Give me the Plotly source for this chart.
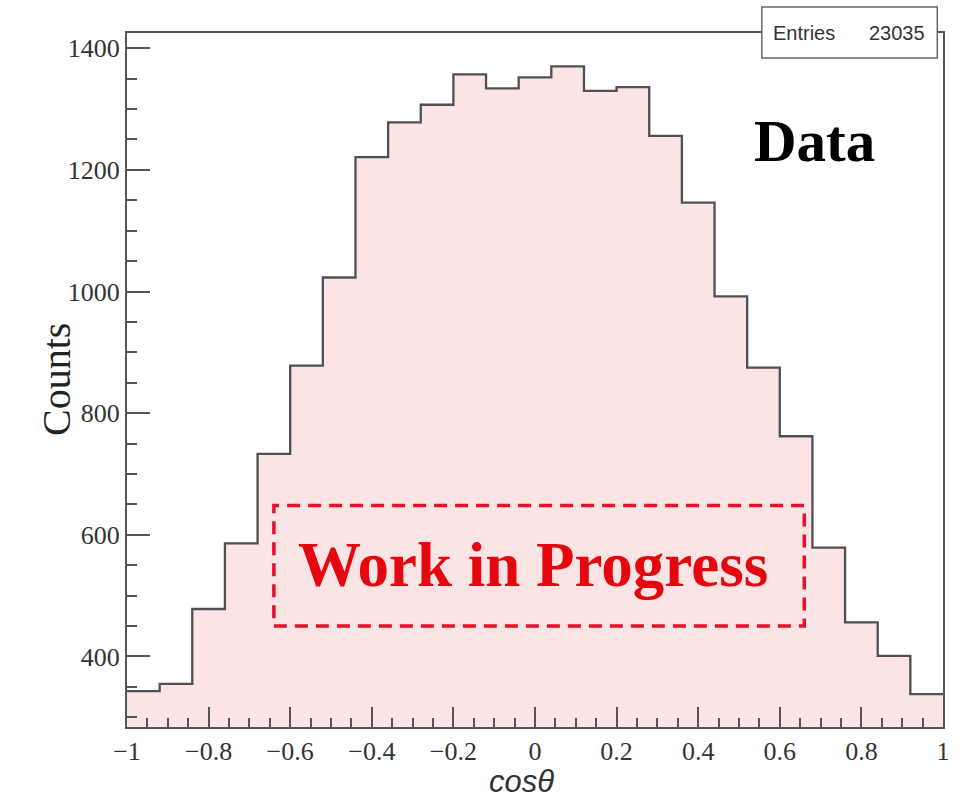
import numpy as np
import plotly.graph_objects as go

# Histogram of cos(theta): 25 bins from -1 to 1
bin_lo = -1.0
bin_hi = 1.0
n_bins = 25
counts = [343, 355, 478, 586, 733, 878, 1023, 1221, 1278, 1307, 1357, 1334, 1352,
          1370, 1330, 1336, 1256, 1146, 992, 875, 762, 579, 456, 401, 338]
entries = 23035

x_ticks = [-1, -0.8, -0.6, -0.4, -0.2, 0, 0.2, 0.4, 0.6, 0.8, 1]
x_tick_text = ["\u22121", "\u22120.8", "\u22120.6", "\u22120.4", "\u22120.2", "0",
               "0.2", "0.4", "0.6", "0.8", "1"]
y_ticks = [400, 600, 800, 1000, 1200, 1400]

edges = np.linspace(bin_lo, bin_hi, n_bins + 1)
step_y = counts + [counts[-1]]

SERIF = "Liberation Serif"
SANS = "Liberation Sans"
AX = "#555555"

fig = go.Figure()
fig.add_trace(go.Scatter(
    x=edges, y=step_y, mode="lines", line_shape="hv",
    line=dict(color="#505050", width=2.3),
    fill="tozeroy", fillcolor="#fbe4e4",
    hoverinfo="skip", showlegend=False,
))

# "Work in Progress" dashed box
fig.add_shape(type="rect", xref="x", yref="y", x0=-0.64, x1=0.66, y0=450, y1=648,
              line=dict(color="#e8112d", width=3.5, dash="13px,8px"), layer="above")
fig.add_annotation(x=-0.005, y=551, xref="x", yref="y", text="<b>Work in Progress</b>",
                   xanchor="center", yanchor="middle", showarrow=False,
                   font=dict(family=SERIF, size=63, color="#e5070f"))

fig.add_annotation(x=0.843, y=0.844, xref="paper", yref="paper", text="<b>Data</b>",
                   xanchor="center", yanchor="middle", showarrow=False,
                   font=dict(family=SERIF, size=59, color="#000000"))

# statistics box
fig.add_shape(type="rect", xref="paper", yref="paper", x0=0.778, x1=0.993,
              y0=0.964, y1=1.0375, fillcolor="white",
              line=dict(color="#666666", width=1.5), layer="above")
fig.add_annotation(x=0.789, y=1.0, xref="paper", yref="paper", text="Entries",
                   xanchor="left", yanchor="middle", showarrow=False,
                   font=dict(family=SANS, size=20, color="#333333"))
fig.add_annotation(x=0.981, y=1.0, xref="paper", yref="paper", text=str(entries),
                   xanchor="right", yanchor="middle", showarrow=False,
                   font=dict(family=SANS, size=20, color="#333333"))

# axis titles
fig.add_annotation(x=-0.087, y=0.5, xref="paper", yref="paper", text="Counts",
                   textangle=-90, xanchor="center", yanchor="middle", showarrow=False,
                   font=dict(family=SERIF, size=40, color="#222222"))
fig.add_annotation(x=0.483, y=-0.079, xref="paper", yref="paper", text="<i>cos\u03b8</i>",
                   xanchor="center", yanchor="middle", showarrow=False,
                   font=dict(family=SANS, size=31, color="#333333"))

fig.update_xaxes(
    range=[bin_lo, bin_hi], tickvals=x_ticks, ticktext=x_tick_text,
    ticks="inside", ticklen=20, tickwidth=1.5, tickcolor=AX,
    minor=dict(dtick=0.05, tick0=0, ticks="inside", ticklen=9, tickwidth=1.5, tickcolor=AX),
    showline=True, linecolor=AX, linewidth=2, mirror=True,
    showgrid=False, zeroline=False,
    tickfont=dict(family=SERIF, size=26, color="#333333"),
)
fig.update_yaxes(
    range=[284, 1425], tickvals=y_ticks,
    ticks="inside", ticklen=23, tickwidth=1.5, tickcolor=AX,
    minor=dict(dtick=50, tick0=0, ticks="inside", ticklen=10, tickwidth=1.5, tickcolor=AX),
    showline=True, linecolor=AX, linewidth=2, mirror=True,
    showgrid=False, zeroline=False,
    tickfont=dict(family=SERIF, size=26, color="#333333"),
)

fig.update_layout(
    width=980, height=801,
    margin=dict(l=127, r=37, t=33, b=74),
    paper_bgcolor="white", plot_bgcolor="white",
    showlegend=False,
)

fig.write_html("out.html")
